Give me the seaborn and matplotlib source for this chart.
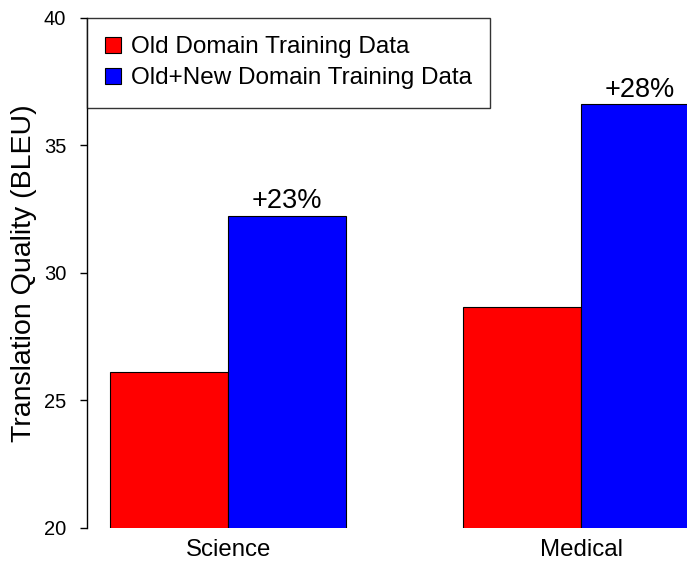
import matplotlib
matplotlib.use("Agg")
import matplotlib.pyplot as plt
import seaborn as sns
import pandas as pd

categories = ["Science", "Medical"]
series_names = ["Old Domain Training Data", "Old+New Domain Training Data"]
old_values = [26.12, 28.67]
new_values = [32.24, 36.63]
gain_labels = ["+23%", "+28%"]
y_ticks = [20, 25, 30, 35, 40]

df = pd.DataFrame({
    "domain": categories * 2,
    "series": [series_names[0]] * 2 + [series_names[1]] * 2,
    "bleu": old_values + new_values,
})

sns.set_style("white")
plt.rcParams["font.family"] = ["Liberation Sans", "DejaVu Sans"]
plt.rcParams["text.color"] = "black"
plt.rcParams["axes.labelcolor"] = "black"
plt.rcParams["xtick.color"] = "black"
plt.rcParams["ytick.color"] = "black"

fig = plt.figure(figsize=(6.87, 5.62), dpi=100)
ax = fig.add_axes([0.1266, 0.0605, 0.8734, 0.9075])

sns.barplot(data=df, x="domain", y="bleu", hue="series",
            palette=["#ff0000", "#0000ff"], edgecolor="black", linewidth=0.8,
            width=0.668, gap=0, saturation=1, ax=ax, errorbar=None)

ax.set_ylim(20, 40)
ax.set_xlim(-0.4, 1.3)
ax.set_yticks(y_ticks)
ax.set_yticklabels([str(t) for t in y_ticks])
ax.tick_params(axis="y", labelsize=14.5, length=5, width=1, direction="out", left=True, pad=10)
ax.tick_params(axis="x", labelsize=17.3, length=0, pad=8)
ax.set_xlabel("")
ax.set_ylabel("Translation Quality (BLEU)", fontsize=20.5, labelpad=5)

for s in ["top", "right", "bottom"]:
    ax.spines[s].set_visible(False)
ax.spines["left"].set_color("black")
ax.spines["left"].set_linewidth(1)

ax.bar_label(ax.containers[1], labels=gain_labels, padding=1, fontsize=19.5)

handles, labels = ax.get_legend_handles_labels()
leg = ax.legend(handles, labels, loc="upper left", bbox_to_anchor=(0, 1),
                borderaxespad=0, fontsize=17.5, frameon=True, fancybox=False,
                edgecolor="black", handlelength=0.65, handleheight=0.65,
                handletextpad=0.4, labelspacing=0.36, borderpad=0.76)
leg.get_frame().set_linewidth(1)

fig.savefig("out.png", dpi=100)
